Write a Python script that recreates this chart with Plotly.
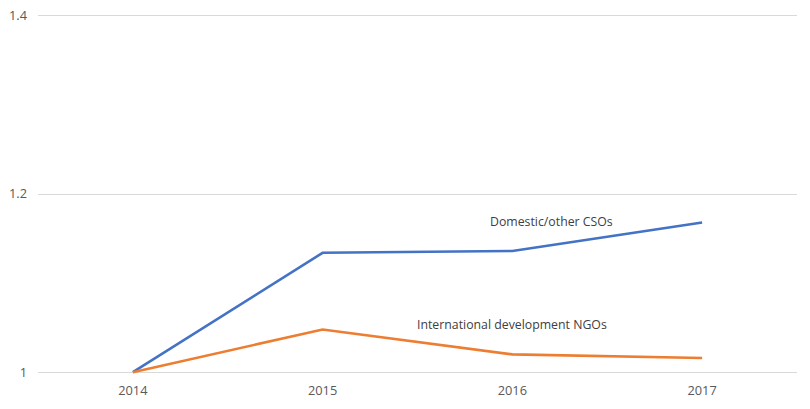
import plotly.graph_objects as go

years = ["2014", "2015", "2016", "2017"]
domestic = [1.0, 1.134, 1.136, 1.168]
international = [1.0, 1.048, 1.020, 1.016]
y_ticks = [1.0, 1.2, 1.4]
y_tick_labels = ["1", "1.2", "1.4"]

font_family = "Open Sans, Liberation Sans, sans-serif"
text_color = "#595959"

fig = go.Figure()
fig.add_trace(go.Scatter(x=years, y=domestic, mode="lines",
                         line=dict(color="#4472C4", width=2.6),
                         name="Domestic/other CSOs", hoverinfo="x+y"))
fig.add_trace(go.Scatter(x=years, y=international, mode="lines",
                         line=dict(color="#ED7D31", width=2.6),
                         name="International development NGOs", hoverinfo="x+y"))

fig.add_annotation(x=2.208, y=1.169, text="Domestic/other CSOs", showarrow=False,
                   xref="x", yref="y",
                   font=dict(family=font_family, size=12.3, color="#404040"))
fig.add_annotation(x=1.997, y=1.053, text="International development NGOs", showarrow=False,
                   xref="x", yref="y",
                   font=dict(family=font_family, size=12.3, color="#404040"))

fig.update_layout(
    width=810, height=409,
    margin=dict(l=38, r=13, t=14, b=35, autoexpand=False),
    paper_bgcolor="white", plot_bgcolor="white",
    showlegend=False,
    font=dict(family=font_family, size=12, color=text_color),
    xaxis=dict(type="category", range=[-0.5, 3.5], showgrid=False, zeroline=False,
               showline=False, ticks="", automargin=False, ticklabelstandoff=7,
               ticklabeloverflow="allow",
               tickfont=dict(size=12.8, color=text_color)),
    yaxis=dict(range=[0.998, 1.402], tickvals=y_ticks, ticktext=y_tick_labels,
               showgrid=True, gridcolor="#D9D9D9", gridwidth=1, zeroline=False,
               showline=False, ticks="", ticklabelstandoff=10, automargin=False,
               ticklabeloverflow="allow",
               tickfont=dict(size=12.8, color=text_color)),
)

fig.write_html("out.html", config={"displayModeBar": False},
               post_script="document.body.style.margin='0';document.body.style.overflow='hidden';")
